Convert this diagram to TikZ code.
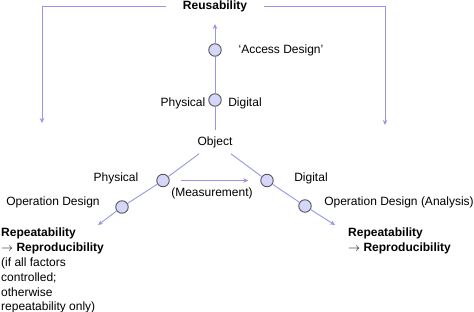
\documentclass[tikz,border=0pt]{standalone}
\usepackage{fontspec}
\setmainfont{Liberation Sans}
\usepackage{tikz}
\usetikzlibrary{arrows.meta}

\definecolor{lnk}{RGB}{150,150,228}
\definecolor{dotfill}{RGB}{214,214,248}
\definecolor{dotdraw}{RGB}{85,85,95}

\begin{document}
\begin{tikzpicture}[x=1pt, y=-1pt,
    every node/.style={font=\fontsize{12}{14.8}\selectfont},
    dot/.style={circle, draw=dotdraw, fill=dotfill, line width=0.9pt, inner sep=0pt, minimum size=12.5pt},
    tip/.style={draw=lnk, line width=0.9pt, -{Stealth[length=5pt, width=4.5pt]}}]
    \useasboundingbox (0,0) rectangle (474,312);

    % top bracket
    \node[font=\fontsize{12}{14.8}\selectfont\bfseries, inner xsep=17pt] (r) at (215,6) {Reusability};
    \coordinate (rl) at (42,6);
    \coordinate (rla) at (42,123);
    \coordinate (rr) at (385,6);
    \coordinate (rra) at (385,125);
    \draw[tip] (r.west) -- (rl) -- (rla);
    \draw[tip] (r.east) -- (rr) -- (rra);

    % vertical branch
    \node[inner sep=6pt] (o) at (215,142) {Object};
    \node[dot] (a) at (215,100) {};
    \node[dot] (b) at (215,50) {};
    \coordinate (t) at (215,24);
    \draw[tip] (o) -- (a) -- (b) -- (t);
    \node (pa) at (183,103) {Physical};
    \node (da) at (245,103) {Digital};
    \node (ad) at (281,50) {‘Access Design’};

    % left branch
    \node[dot] (c) at (163,180.5) {};
    \node[dot] (d) at (122,207) {};
    \coordinate (cl) at (98,225);
    \draw[tip] (o) -- (c) -- (d) -- (cl);
    \node (pc) at (116,178) {Physical};
    \node (od) at (53,202) {Operation Design};

    % right branch
    \node[dot] (e) at (267,180.5) {};
    \node[dot] (f) at (305,206) {};
    \coordinate (cr) at (335,225);
    \draw[tip] (o) -- (e) -- (f) -- (cr);
    \node (de) at (311,178) {Digital};
    \node (odf) at (399,202) {Operation Design (Analysis)};

    % measurement
    \draw[tip, shorten <=11pt, shorten >=12pt] (c) -- (e);
    \node (ms) at (212,193) {(Measurement)};

    % outcomes
    \node[anchor=north west, inner sep=0pt, align=left] (rp) at (1,228)
        {\textbf{Repeatability}\\$\rightarrow$ \textbf{Reproducibility}\\(if all factors\\controlled;\\otherwise\\repeatability only)};
    \node[anchor=north west, inner sep=0pt, align=left] (rq) at (348,228)
        {\textbf{Repeatability}\\$\rightarrow$ \textbf{Reproducibility}};
\end{tikzpicture}
\end{document}
